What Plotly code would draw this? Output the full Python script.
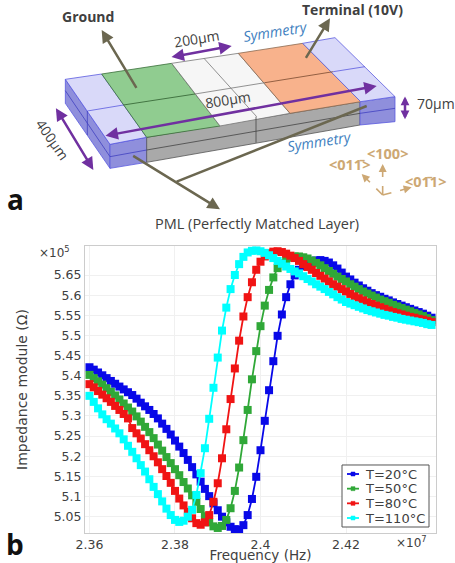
import plotly.graph_objects as go

W, H = 455, 563

freq = [round(2.36 + i * 0.001, 3) for i in range(81)]
labels = ["T=20°C", "T=50°C", "T=80°C", "T=110°C"]
colors = ["#0808e8", "#30a838", "#f01414", "#00ffff"]

t20 = [5.421,5.415,5.408,5.401,5.394,5.387,5.380,5.373,5.366,5.359,5.352,5.343,5.333,5.324,5.315,5.305,5.294,5.281,5.268,5.254,
       5.239,5.224,5.208,5.191,5.173,5.155,5.137,5.119,5.101,5.083,5.066,5.050,5.036,5.025,5.019,5.018,5.029,5.054,5.094,5.149,
       5.215,5.288,5.364,5.436,5.499,5.552,5.595,5.627,5.649,5.663,5.672,5.679,5.683,5.686,5.687,5.685,5.681,5.674,5.666,5.656,
       5.646,5.639,5.631,5.624,5.617,5.611,5.605,5.600,5.596,5.591,5.587,5.582,5.578,5.574,5.570,5.566,5.562,5.558,5.554,5.549,5.544]
t50 = [5.402,5.394,5.386,5.378,5.369,5.360,5.351,5.341,5.331,5.321,5.311,5.299,5.286,5.273,5.260,5.245,5.229,5.214,5.198,5.183,
       5.168,5.153,5.136,5.120,5.103,5.087,5.069,5.051,5.036,5.026,5.022,5.027,5.042,5.071,5.114,5.172,5.240,5.315,5.391,5.461,
       5.523,5.574,5.613,5.644,5.667,5.679,5.688,5.693,5.696,5.696,5.694,5.691,5.686,5.680,5.674,5.667,5.660,5.653,5.646,5.640,
       5.634,5.627,5.621,5.615,5.609,5.604,5.599,5.594,5.589,5.585,5.581,5.576,5.572,5.568,5.564,5.560,5.556,5.552,5.548,5.543,5.538]
t80 = [5.379,5.371,5.362,5.353,5.344,5.335,5.325,5.315,5.305,5.294,5.270,5.257,5.244,5.230,5.215,5.200,5.185,5.168,5.151,5.134,
       5.114,5.095,5.078,5.062,5.046,5.034,5.030,5.036,5.054,5.087,5.133,5.195,5.267,5.342,5.418,5.487,5.547,5.595,5.632,5.663,
       5.683,5.696,5.704,5.708,5.709,5.707,5.703,5.698,5.692,5.685,5.677,5.670,5.663,5.655,5.648,5.641,5.634,5.627,5.621,5.615,
       5.609,5.603,5.597,5.592,5.587,5.582,5.578,5.574,5.570,5.566,5.562,5.558,5.555,5.552,5.549,5.546,5.544,5.541,5.539,5.536,5.533]
t110 = [5.350,5.335,5.319,5.304,5.292,5.281,5.269,5.257,5.242,5.226,5.211,5.195,5.178,5.162,5.143,5.124,5.106,5.088,5.070,5.054,
        5.042,5.037,5.040,5.050,5.067,5.104,5.158,5.220,5.293,5.370,5.445,5.512,5.569,5.615,5.650,5.677,5.695,5.706,5.710,5.711,
        5.709,5.705,5.699,5.692,5.685,5.678,5.671,5.665,5.659,5.654,5.647,5.640,5.634,5.627,5.621,5.615,5.608,5.602,5.595,5.589,
        5.583,5.579,5.575,5.571,5.567,5.563,5.560,5.557,5.554,5.551,5.549,5.546,5.544,5.541,5.539,5.537,5.535,5.533,5.531,5.528,5.526]
series = [t20, t50, t80, t110]
y_ticks = [5.05,5.1,5.15,5.2,5.25,5.3,5.35,5.4,5.45,5.5,5.55,5.6,5.65]
x_ticks = [2.36,2.38,2.40,2.42]
x_tick_text = ["2.36","2.38","2.4","2.42"]

TXT = "#404040"
fig = go.Figure()
for vals, name, col in zip(series, labels, colors):
    fig.add_trace(go.Scatter(x=freq, y=vals, mode="lines+markers", name=name, showlegend=False,
                             line=dict(color=col, width=1.8),
                             marker=dict(symbol="square", size=8, color=col)))

def P(x, y):
    return x / 3 / W, 1 - y / 3 / H

def poly(pts, fill, edge="#5a5ae0", w=0.8):
    d = ""
    for i, (x, y) in enumerate(pts):
        px, py = P(x, y)
        d += ("M" if i == 0 else "L") + f"{px:.5f},{py:.5f} "
    fig.add_shape(type="path", path=d + "Z", xref="paper", yref="paper",
                  fillcolor=fill, line=dict(color=edge, width=w), layer="above")

def seg(a, b, col, w=0.8, dash=None):
    x0, y0 = P(*a); x1, y1 = P(*b)
    fig.add_shape(type="line", x0=x0, y0=y0, x1=x1, y1=y1, xref="paper", yref="paper",
                  line=dict(color=col, width=w, dash=dash), layer="above")

def arrow(tail, head, col, w=2.5, both=False, size=1.0):
    x, y = P(*head)
    fig.add_annotation(x=x, y=y, xref="paper", yref="paper", text="", showarrow=True,
                       ax=(tail[0]-head[0])/3, ay=(tail[1]-head[1])/3, axref="pixel", ayref="pixel",
                       arrowhead=2, arrowsize=size, arrowwidth=w, arrowcolor=col,
                       arrowside="end+start" if both else "end", startarrowhead=2, startarrowsize=size)

def label(x, y, s, size=14, col=TXT, angle=0, bold=False, italic=False, font="Open Sans", anchor="center"):
    px, py = P(x, y)
    if bold: s = f"<b>{s}</b>"
    if italic: s = f"<i>{s}</i>"
    fig.add_annotation(x=px, y=py, xref="paper", yref="paper", text=s, showarrow=False,
                       font=dict(size=size, color=col, family=font), textangle=angle,
                       xanchor=anchor, yanchor="middle")

LAV, LAV2 = "#d9d9f9", "#8f8fdc"
GRAY = "#a9a9a9"
poly([(330,433),(196,238),(196,310),(330,505)], LAV2)
poly([(330,433),(440,412),(440,487),(330,505)], LAV2)
poly([(440,412),(1080,305),(1080,375),(440,487)], GRAY, "#555555")
poly([(1080,305),(1185,290),(1185,365),(1080,375)], LAV2)
poly([(196,238),(305,222),(440,412),(330,433)], LAV)
poly([(305,222),(515,190),(660,378),(440,412)], "#90cc90", "#3a6e3a")
poly([(515,190),(715,160),(870,340),(660,378)], "#f6f6f6", "#777777")
poly([(715,160),(908,130),(1082,305),(870,340)], "#f8b28c", "#8a6a50")
poly([(908,130),(1005,113),(1185,290),(1082,305)], LAV)
seg((262,333),(370,315),"#5a5ae0")
seg((370,315),(585,282),"#2e5e2e")
seg((585,282),(795,248),"#777777")
seg((795,248),(1000,215),"#7a4a30")
seg((1000,215),(1095,200),"#5a5ae0")
seg((612,175),(770,350),"#777777")
seg((440,450),(1080,340),"#444444")
seg((768,350),(768,428),"#444444")
seg((330,470),(440,450),"#4040c0")
seg((1080,340),(1185,325),"#4040c0")
seg((196,272),(330,470),"#4040c0")
seg((262,333),(262,405),"#4040c0")

OL = "#6b6750"; PU = "#7030a0"; TAN = "#cda874"
arrow((412,268),(305,90),OL)
arrow((915,178),(990,55),OL)
arrow((395,465),(660,628),OL)
seg((530,545),(1100,318),OL,2.5)
arrow((510,172),(695,138),PU,both=True)
arrow((312,408),(1130,258),PU,both=True)
arrow((165,320),(280,510),PU,both=True)
arrow((1215,285),(1215,358),PU,w=2.5,both=True,size=0.7)
for end in [(1148,492),(1085,522),(1235,562)]:
    seg((1148,585),end,TAN,1.6,"dash")
    arrow(((1148*2+end[0]*8)/10,(585*2+end[1]*8)/10),end,TAN,1.6)

label(263,50,"Ground",14,bold=True)
label(1057,30,"Terminal (10V)",14,bold=True)
label(590,117,"200µm",14,angle=-9)
label(825,95,"Symmetry",14.5,"#3f7fc0",angle=-9,italic=True)
label(685,298,"800µm",14,angle=-9)
label(1308,312,"70µm",14)
label(158,418,"400µm",14,angle=55)
label(958,425,"Symmetry",14.5,"#3f7fc0",angle=-9,italic=True)
label(770,670,"PML (Perfectly Matched Layer)",14.5)
label(1048,494,"&lt;011̄&gt;",14.5,TAN,bold=True)
label(1163,460,"&lt;100&gt;",14.5,TAN,bold=True)
label(1277,544,"&lt;01̄1&gt;",14.5,TAN,bold=True)
label(45,598,"a",28,"#111111",bold=True)
label(45,1632,"b",28,"#111111",bold=True)

# exponents
label(163,756,"×10<sup>5</sup>",12,font="DejaVu Sans")
label(1233,1626,"×10<sup>7</sup>",12,font="DejaVu Sans")

# legend box (drawn by hand: plotly's own rows cannot be this tight)
poly([(1026,1395),(1287,1395),(1287,1581),(1026,1581)], "white", "#555555", 1)
for k, (name, col) in enumerate(zip(labels, colors)):
    row = 1422 + k * 44
    seg((1041,row),(1077,row),col,1.8)
    poly([(1053,row-6),(1065,row-6),(1065,row+6),(1053,row+6)], col, col, 0.5)
    label(1089,row,name,13,font="DejaVu Sans",anchor="left")

fig.update_layout(
    width=W, height=H, margin=dict(l=0, r=0, t=0, b=0), paper_bgcolor="white", plot_bgcolor="white",
    font=dict(family="DejaVu Sans", size=12.5, color=TXT), showlegend=False,
    xaxis=dict(domain=[85/W, 436/W], range=[2.35895, 2.44105], tickvals=x_ticks, ticktext=x_tick_text, automargin=False,
               showline=True, linecolor="#cccccc", mirror=True, gridcolor="#f0f0f0", zeroline=False,
               ticks="", title=dict(text="Frequency (Hz)", font=dict(size=13.5), standoff=3)),
    yaxis=dict(domain=[1-533/H, 1-246/H], range=[5.0095, 5.722], tickvals=y_ticks, automargin=False,
               ticktext=[f"{v:g}" for v in y_ticks],
               showline=True, linecolor="#cccccc", mirror=True, gridcolor="#f0f0f0", zeroline=False,
               ticks="", title=dict(text="Impedance module (Ω)", font=dict(size=14), standoff=22)),
)
fig.write_html("out.html", config={"displayModeBar": False},
               post_script="document.body.style.margin='0';document.documentElement.style.overflow='hidden';")
